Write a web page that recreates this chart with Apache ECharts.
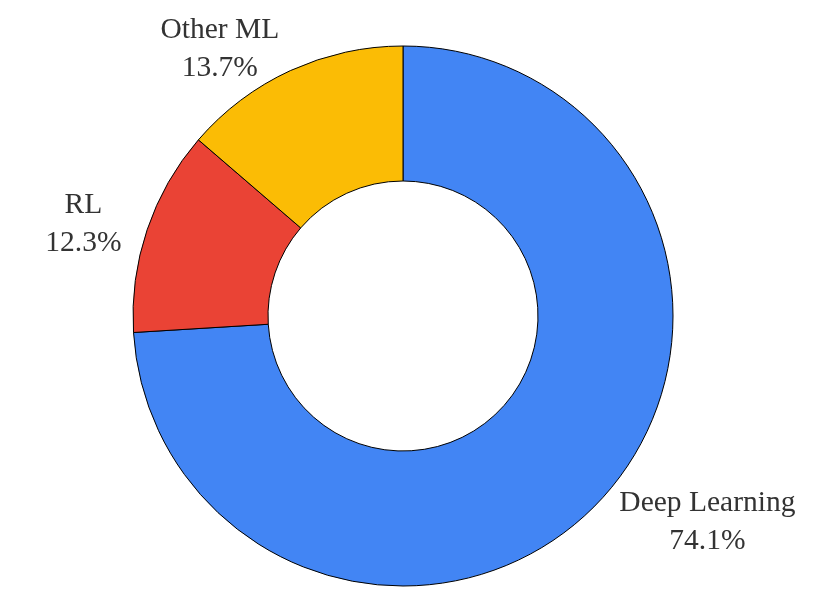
<!DOCTYPE html>
<html>
<head>
<meta charset="utf-8">
<style>
  html, body { margin: 0; padding: 0; background: #fff; }
  #chart { width: 831px; height: 593px; }
</style>
<script src="https://cdn.jsdelivr.net/npm/echarts@6/dist/echarts.min.js"></script>
</head>
<body>
<div id="chart"></div>
<script>
// --- data ---
const categories = ['Deep Learning', 'RL', 'Other ML'];
const shares = [74.1, 12.3, 13.7];
const colors = ['#4285F4', '#EA4335', '#FBBC05'];

// layout
const cx = 403, cy = 316, rOuter = 270, rInner = 135;
const labelDist = 1.1;

const total = shares.reduce((a, b) => a + b, 0);

// mid angle of each slice (degrees, clockwise from 12 o'clock)
function midAngle(i) {
    let before = 0;
    for (let j = 0; j < i; j++) before += shares[j];
    return (before + shares[i] / 2) / total * 360;
}

const chart = echarts.init(document.getElementById('chart'));
chart.setOption({
    animation: false,
    backgroundColor: '#fff',
    series: [{
        type: 'pie',
        center: [cx, cy],
        radius: [rInner, rOuter],
        startAngle: 90,
        clockwise: true,
        avoidLabelOverlap: false,
        data: categories.map((c, i) => ({
            name: c,
            value: shares[i],
            itemStyle: { color: colors[i] }
        })),
        itemStyle: { borderColor: '#000', borderWidth: 1 },
        label: {
            show: true,
            position: 'outside',
            formatter: p => p.name + '\n' + shares[p.dataIndex].toFixed(1) + '%',
            fontFamily: 'Liberation Serif',
            fontSize: 29.5,
            lineHeight: 38,
            color: '#333',
            align: 'center'
        },
        labelLine: { show: false },
        labelLayout: params => {
            const a = (90 - midAngle(params.dataIndex)) * Math.PI / 180;
            const ax = cx + rOuter * labelDist * Math.cos(a);
            const ay = cy - rOuter * labelDist * Math.sin(a);
            const w = params.labelRect.width;
            const x = Math.cos(a) >= 0 ? ax + w / 2 : ax - w / 2;
            return { x: x, y: ay + 3, align: 'center', verticalAlign: 'middle' };
        },
        emphasis: { disabled: true }
    }]
});
</script>
</body>
</html>
